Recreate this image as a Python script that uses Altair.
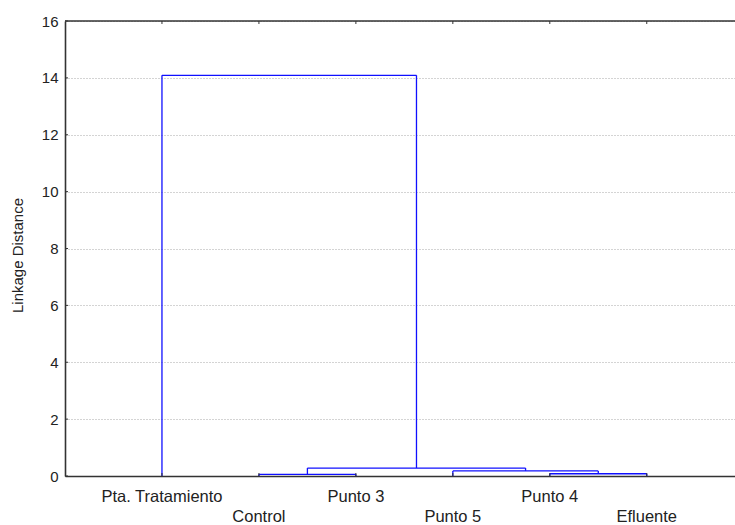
import altair as alt
import pandas as pd

# Leaf order along the x axis
leaves = ["Pta. Tratamiento", "Control", "Punto 3", "Punto 5", "Punto 4", "Efluente"]

# Agglomeration steps: node a joins node b at the given linkage distance.
# Leaves are nodes 0..5; each merge creates the next node number (6, 7, ...).
merge_a = [1, 4, 3, 6, 0]
merge_b = [2, 5, 7, 8, 9]
merge_h = [0.06, 0.08, 0.18, 0.28, 14.09]

y_ticks = [0, 2, 4, 6, 8, 10, 12, 14, 16]

# Build the dendrogram branches (two verticals and one horizontal per merge)
pos = {i: i + 1 for i in range(len(leaves))}
level = {i: 0.0 for i in range(len(leaves))}
segs = []
for k, (a, b, h) in enumerate(zip(merge_a, merge_b, merge_h)):
    node = len(leaves) + k
    xa, xb = pos[a], pos[b]
    segs.append(dict(x=xa, x2=xa, y=level[a], y2=h))
    segs.append(dict(x=xb, x2=xb, y=level[b], y2=h))
    segs.append(dict(x=xa, x2=xb, y=h, y2=h))
    pos[node] = (xa + xb) / 2
    level[node] = h
seg_df = pd.DataFrame(segs)

lab_df = pd.DataFrame({
    "x": [i + 1 for i in range(len(leaves))],
    "label": leaves,
    "row": [i % 2 for i in range(len(leaves))],
})
tick_df = pd.DataFrame({"v": y_ticks})
one = pd.DataFrame({"a": [0]})

W, H = 670, 455
FONT = "Liberation Sans"
xscale = alt.Scale(domain=[0, 6.91], nice=False, zero=False)
yscale = alt.Scale(domain=[0, 16], nice=False)

branches = alt.Chart(seg_df).mark_rule(color="#1010ff", strokeWidth=1.3).encode(
    x=alt.X("x:Q", scale=xscale,
            axis=alt.Axis(labels=False, ticks=False, grid=False, title=None,
                          domainColor="#333333", domainWidth=1.6)),
    x2="x2:Q",
    y=alt.Y("y:Q", scale=yscale,
            axis=alt.Axis(values=y_ticks, title="Linkage Distance",
                          tickSize=0, labelPadding=7, labelFontSize=15,
                          labelColor="#222222", labelFont=FONT,
                          titleFontSize=15, titleFont=FONT, titleFontWeight="normal",
                          titleColor="#222222", titleX=-48, titleY=234,
                          titleBaseline="middle", titleAngle=-90,
                          domainColor="#333333", domainWidth=1.6,
                          grid=True, gridColor="#a8a8a8", gridDash=[1, 2],
                          gridWidth=1)),
    y2="y2:Q",
)

row1 = alt.Chart(lab_df).transform_filter("datum.row == 0").mark_text(
    font=FONT, fontSize=16.5, color="#222222", baseline="alphabetic", align="center"
).encode(x=alt.X("x:Q", scale=xscale), y=alt.value(481), text="label:N")

row2 = alt.Chart(lab_df).transform_filter("datum.row == 1").mark_text(
    font=FONT, fontSize=16.5, color="#222222", baseline="alphabetic", align="center"
).encode(x=alt.X("x:Q", scale=xscale), y=alt.value(501), text="label:N")

top_frame = alt.Chart(one).mark_rule(color="#333333", strokeWidth=1.6).encode(
    x=alt.value(0), x2=alt.value(W), y=alt.value(0)
)

# Small inward ticks at each leaf (top and bottom) and at each y value
leaf_ticks_bottom = alt.Chart(lab_df).mark_rule(color="#333333", strokeWidth=1).encode(
    x=alt.X("x:Q", scale=xscale), y=alt.value(H), y2=alt.value(H - 3)
)
leaf_ticks_top = alt.Chart(lab_df).mark_rule(color="#333333", strokeWidth=1).encode(
    x=alt.X("x:Q", scale=xscale), y=alt.value(0), y2=alt.value(3)
)
y_inner_ticks = alt.Chart(tick_df).mark_rule(color="#333333", strokeWidth=1).encode(
    y=alt.Y("v:Q", scale=yscale), x=alt.value(0), x2=alt.value(3)
)

chart = alt.layer(
    branches, leaf_ticks_bottom, leaf_ticks_top, y_inner_ticks, top_frame, row1, row2
).properties(
    width=W, height=H,
    autosize=alt.AutoSizeParams(type="none"),
    padding={"left": 65, "top": 21, "right": 0, "bottom": 49},
    background="white",
).configure_view(stroke=None)

chart.save("out.html", embed_options={"renderer": "svg", "actions": False})
